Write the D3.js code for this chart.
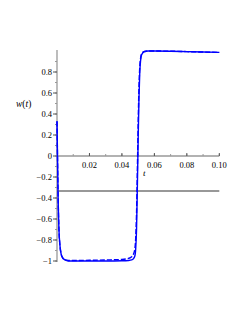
<!DOCTYPE html>
<html>
<head>
<meta charset="utf-8">
<script src="https://cdn.jsdelivr.net/npm/d3@7"></script>
<style>
  body { margin: 0; background: #fff; }
  svg { display: block; }
  text { font-family: "Liberation Serif", "DejaVu Serif", serif; }
</style>
</head>
<body>
<script>
// data
const tSolid = [0, 0.0003, 0.0007, 0.0012, 0.0018, 0.0025, 0.0035, 0.005, 0.007, 0.01, 0.02, 0.03, 0.04, 0.044, 0.046, 0.047, 0.048, 0.0485, 0.049, 0.0495, 0.05, 0.0505, 0.051, 0.0515, 0.052, 0.053, 0.054, 0.056, 0.06, 0.07, 0.08, 0.09, 0.1]
const wSolid = [0.33, 0.0, -0.4, -0.7, -0.85, -0.93, -0.97, -0.99, -1, -1, -1, -1, -0.998, -0.995, -0.99, -0.98, -0.95, -0.88, -0.7, -0.3, 0.15, 0.55, 0.8, 0.91, 0.96, 0.985, 0.995, 1.0, 1.0, 0.998, 0.994, 0.99, 0.987]
const tDashed = [0, 0.0003, 0.0007, 0.0012, 0.0018, 0.0025, 0.0035, 0.005, 0.007, 0.01, 0.02, 0.03, 0.04, 0.044, 0.046, 0.047, 0.048, 0.0485, 0.049, 0.0495, 0.05, 0.0505, 0.051, 0.0515, 0.052, 0.053, 0.054, 0.056, 0.06, 0.07, 0.08, 0.09, 0.1]
const wDashed = [0.33, 0.0, -0.4, -0.7, -0.85, -0.93, -0.97, -0.99, -0.995, -0.995, -0.993, -0.99, -0.985, -0.975, -0.96, -0.94, -0.88, -0.78, -0.55, -0.15, 0.3, 0.65, 0.85, 0.93, 0.97, 0.99, 0.995, 1.0, 1.0, 0.998, 0.994, 0.99, 0.987]
const wConst = -1 / 3
const xTicks = [0.02, 0.04, 0.06, 0.08, 0.10]
const yTicks = [-1, -0.8, -0.6, -0.4, -0.2, 0, 0.2, 0.4, 0.6, 0.8]

const width = 245, height = 317

const x = d3.scaleLinear().domain([0, 0.1]).range([57, 219.3])
const y = d3.scaleLinear().domain([-1, 1]).range([261, 51])

const svg = d3.select("body").append("svg")
  .attr("width", width)
  .attr("height", height)

const fmt = d => d === 0 ? "0" : (d < 0 ? "\u2212" : "") + d3.format(".1f")(Math.abs(d)).replace(/^1\.0$/, "1")

// y axis
const yAxis = svg.append("g").attr("transform", `translate(${x(0)},0)`)
yAxis.append("line")
  .attr("y1", y(1) - 1).attr("y2", y(-1) + 1)
  .attr("stroke", "#999").attr("stroke-width", 1.3)
yAxis.selectAll(".minor").data(d3.range(-10, 10).map(d => d / 10))
  .join("line")
  .attr("x1", -2).attr("x2", 0)
  .attr("y1", d => y(d)).attr("y2", d => y(d))
  .attr("stroke", "#999")
yAxis.selectAll(".major").data(yTicks)
  .join("line")
  .attr("x1", -4).attr("x2", 0)
  .attr("y1", d => y(d)).attr("y2", d => y(d))
  .attr("stroke", "#555")
yAxis.selectAll("text").data(yTicks)
  .join("text")
  .attr("x", -5)
  .attr("y", d => y(d) + 3)
  .attr("text-anchor", "end")
  .attr("font-size", 8.5)
  .text(d => d === -1 ? "\u22121" : fmt(d))

// x axis
const xAxis = svg.append("g").attr("transform", `translate(0,${y(0)})`)
xAxis.append("line")
  .attr("x1", x(0)).attr("x2", x(0.1))
  .attr("stroke", "#999").attr("stroke-width", 1.3)
xAxis.selectAll(".minor").data(d3.range(1, 11).map(d => d / 100))
  .join("line")
  .attr("x1", d => x(d)).attr("x2", d => x(d))
  .attr("y1", -2).attr("y2", 0)
  .attr("stroke", "#999")
xAxis.selectAll(".major").data(xTicks)
  .join("line")
  .attr("x1", d => x(d)).attr("x2", d => x(d))
  .attr("y1", -3).attr("y2", 0)
  .attr("stroke", "#555")
xAxis.selectAll("text").data(xTicks)
  .join("text")
  .attr("x", d => x(d))
  .attr("y", 12)
  .attr("text-anchor", "middle")
  .attr("font-size", 8.5)
  .text(d => d3.format(".2f")(d))

// axis labels
svg.append("text")
  .attr("x", 143).attr("y", 176)
  .attr("font-style", "italic").attr("font-size", 9)
  .text("t")
const lab = svg.append("text")
  .attr("x", 16).attr("y", 107)
  .attr("font-size", 9.5)
lab.append("tspan").attr("font-style", "italic").text("w")
lab.append("tspan").text("(")
lab.append("tspan").attr("font-style", "italic").text("t")
lab.append("tspan").text(")")

// constant line
svg.append("line")
  .attr("x1", x(0)).attr("x2", x(0.1))
  .attr("y1", y(wConst)).attr("y2", y(wConst))
  .attr("stroke", "#333").attr("stroke-width", 1.2)

const line = d3.line().x(d => x(d[0])).y(d => y(d[1])).curve(d3.curveMonotoneX)

svg.append("path")
  .datum(d3.zip(tDashed, wDashed))
  .attr("fill", "none")
  .attr("stroke", "#0000ff")
  .attr("stroke-width", 1.4)
  .attr("stroke-dasharray", "5,2")
  .attr("d", line)

svg.append("path")
  .datum(d3.zip(tSolid, wSolid))
  .attr("fill", "none")
  .attr("stroke", "#0000ff")
  .attr("stroke-width", 1.4)
  .attr("d", line)
</script>
</body>
</html>
